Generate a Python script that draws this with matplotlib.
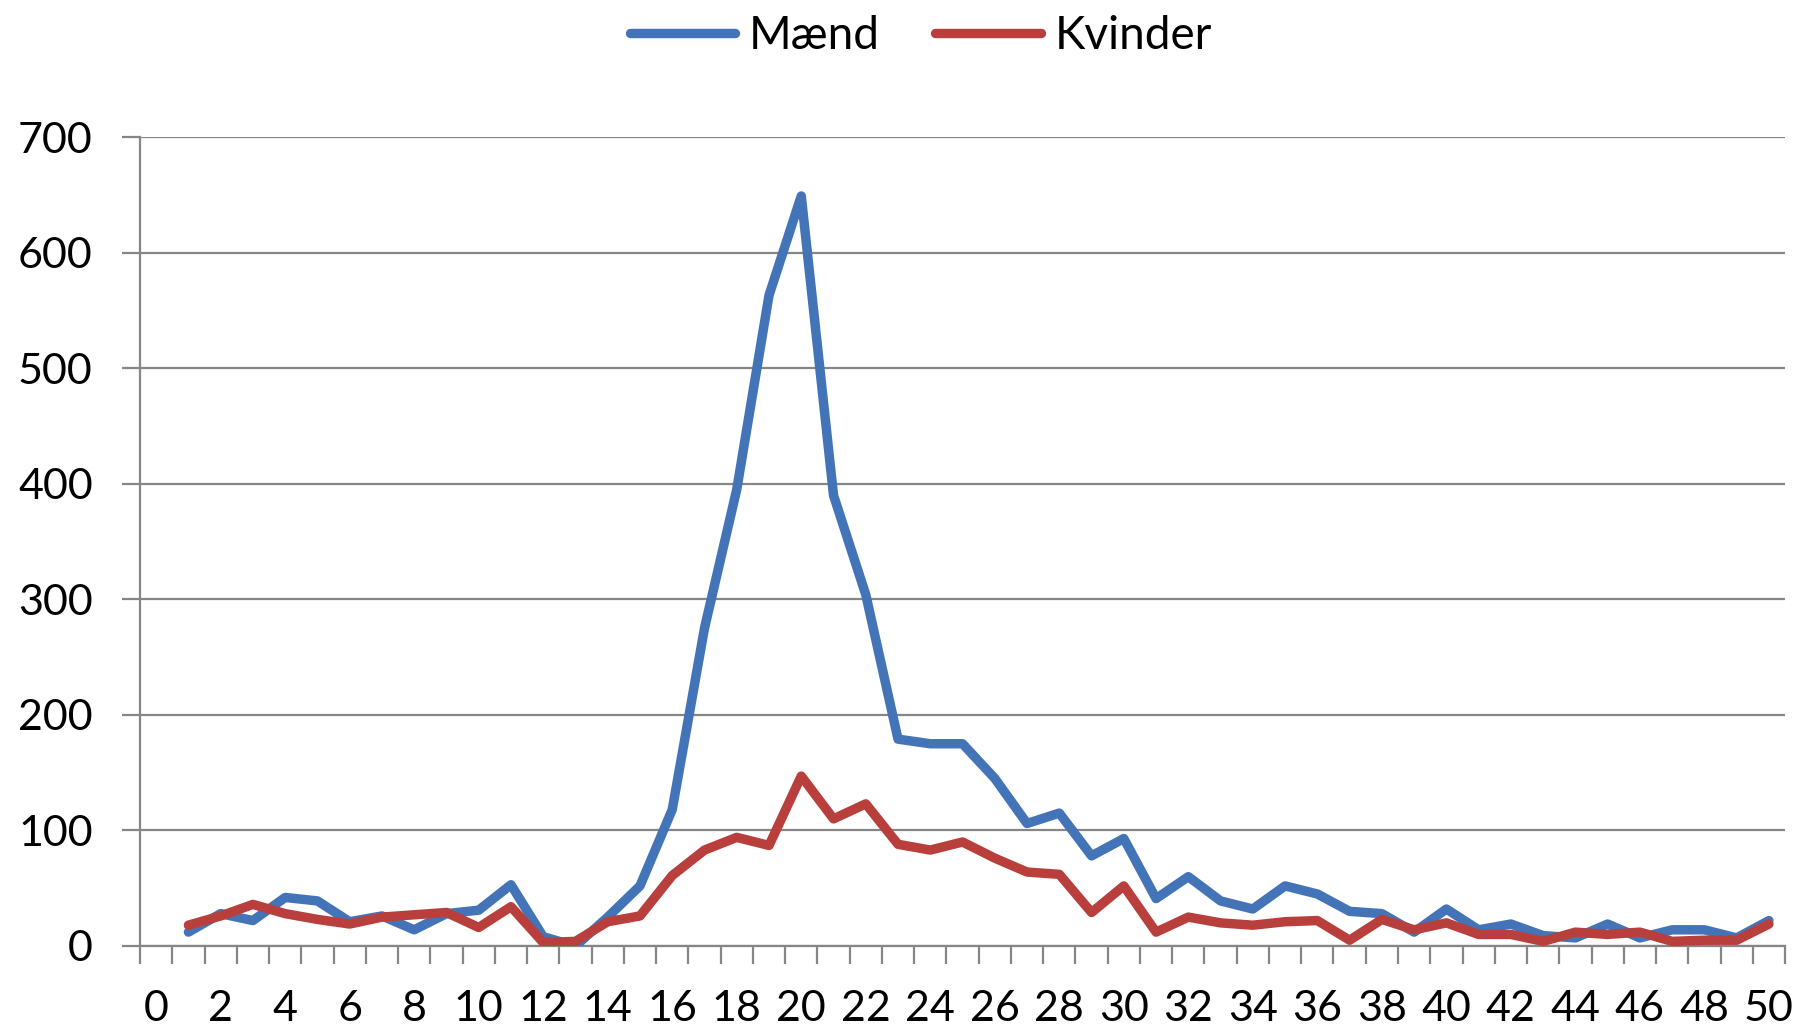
#!/usr/bin/env python
# -*- encoding: utf8 -*-

import matplotlib
matplotlib.use("Agg")
import matplotlib.pyplot as plt
from matplotlib.ticker import FixedLocator, NullFormatter

# alder 1..50 (kategori 0 er tom)
alder = list(range(1, 51))

maend = [12, 28, 22, 42, 39, 21, 26, 14, 28, 31,
         53, 8, 0, 25, 52, 118, 275, 395, 563, 649,
         390, 304, 179, 175, 175, 145, 106, 115, 78, 93,
         41, 60, 39, 32, 52, 45, 30, 28, 12, 32,
         14, 19, 9, 7, 19, 7, 14, 14, 7, 22]

kvinder = [18, 26, 36, 28, 23, 19, 25, 27, 29, 16,
           34, 3, 4, 21, 26, 61, 83, 94, 87, 147,
           110, 123, 88, 83, 90, 76, 64, 62, 29, 52,
           12, 25, 20, 18, 21, 22, 5, 23, 14, 20,
           10, 10, 4, 12, 10, 12, 4, 5, 5, 19]

xlabels = [str(i) for i in range(0, 51, 2)]
yticks = [0, 100, 200, 300, 400, 500, 600, 700]

BLUE = "#4374b8"
RED = "#b93f3c"
GRAY = "#868686"


def main():
    plt.rcParams['font.family'] = ['Lato', 'DejaVu Sans']

    fig = plt.figure(figsize=(18.02, 10.35), dpi=100)
    ax = fig.add_axes([0.0777, 0.086, 0.9129, 0.7816])

    ax.plot(alder, maend, '-', color=BLUE, lw=6.8, solid_capstyle='round',
            solid_joinstyle='round', label="Mænd", zorder=3)
    ax.plot(alder, kvinder, '-', color=RED, lw=6.8, solid_capstyle='round',
            solid_joinstyle='round', label="Kvinder", zorder=4)

    ax.set_xlim(-0.5, 50.5)
    ax.set_ylim(0, 700)

    # y akse
    ax.set_yticks(yticks)
    ax.yaxis.grid(True, color=GRAY, lw=1.6)
    ax.tick_params(axis='y', length=13, width=1.6, color=GRAY, pad=21,
                   labelsize=31)

    # x akse: streger mellem kategorierne, tekst i midten
    ax.xaxis.set_major_locator(FixedLocator([i - 0.5 for i in range(52)]))
    ax.xaxis.set_major_formatter(NullFormatter())
    ax.xaxis.set_minor_locator(FixedLocator(list(range(0, 51, 2))))
    ax.set_xticklabels(xlabels, minor=True)
    ax.tick_params(axis='x', which='major', length=13, width=1.6, color=GRAY,
                   direction='out')
    ax.tick_params(axis='x', which='minor', length=0, pad=32, labelsize=31)

    for s in ('top', 'right'):
        ax.spines[s].set_visible(False)
    for s in ('left', 'bottom'):
        ax.spines[s].set_color(GRAY)
        ax.spines[s].set_linewidth(1.6)
    ax.set_axisbelow(True)

    fig.legend(loc='center', bbox_to_anchor=(0.511, 0.965), ncol=2,
               frameon=False, fontsize=33, handlelength=2.3,
               handletextpad=0.3, columnspacing=1.2)

    fig.savefig("out.png", dpi=100)


if __name__ == '__main__':
    main()
